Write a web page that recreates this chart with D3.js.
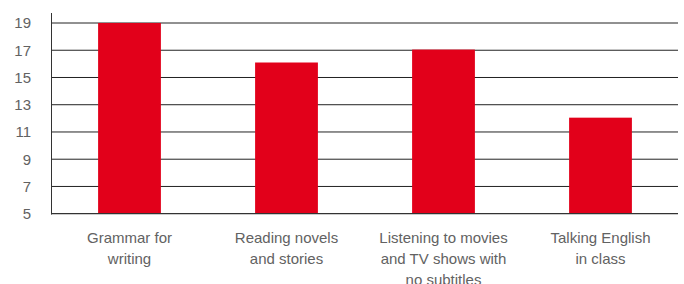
<!DOCTYPE html>
<html><head><meta charset="utf-8">
<script src="https://cdn.jsdelivr.net/npm/d3@7"></script>
<style>body{margin:0;background:#fff}svg{display:block}</style>
</head><body>
<script>
const categories = ["Grammar for writing","Reading novels and stories","Listening to movies and TV shows with no subtitles","Talking English in class"];
const categoryLines = [["Grammar for","writing"],["Reading novels","and stories"],["Listening to movies","and TV shows with","no subtitles"],["Talking English","in class"]];
const values = [19, 16.1, 17.05, 12.05];
const yTicks = [5,7,9,11,13,15,17,19];

const W=684,H=284;
const svg=d3.select("body").append("svg").attr("width",W).attr("height",H);
const x=d3.scaleBand().domain(categories).range([51,679]).paddingInner(0.6).paddingOuter(0.3);
const y=d3.scaleLinear().domain([5,19]).range([213.7,23]);

// gridlines
svg.append("g").selectAll("line").data(yTicks.slice(1)).join("line")
  .attr("x1",51).attr("x2",678).attr("y1",d=>y(d)).attr("y2",d=>y(d))
  .attr("stroke","#222").attr("stroke-width",1);

// bars
svg.append("g").selectAll("rect").data(values).join("rect")
  .attr("x",(d,i)=>x(categories[i])).attr("width",x.bandwidth())
  .attr("y",d=>y(d)).attr("height",d=>y(5)-y(d)).attr("fill","#e2001a");

// y axis
const ya=svg.append("g").attr("transform","translate(51,0)")
  .call(d3.axisLeft(y).tickValues(yTicks).tickSize(0).tickPadding(20));
ya.select(".domain").remove();
ya.selectAll("text").attr("fill","#626262").style("font-family","'Liberation Sans',Arial,sans-serif").style("font-size","15px");
svg.append("line").attr("x1",51.5).attr("x2",51.5).attr("y1",13).attr("y2",214.5).attr("stroke","#333");
svg.append("line").attr("x1",51).attr("x2",678).attr("y1",213.7).attr("y2",213.7).attr("stroke","#333").attr("stroke-width",1.2);

// x axis labels
const xa=svg.append("g").attr("transform","translate(0,214)")
  .call(d3.axisBottom(x).tickSize(0).tickFormat(""));
xa.select(".domain").remove();
xa.selectAll(".tick").each(function(d,i){
  const t=d3.select(this).append("text").attr("fill","#626262").attr("text-anchor","middle")
    .style("font-family","'Liberation Sans',Arial,sans-serif").style("font-size","15px");
  categoryLines[i].forEach((ln,j)=>t.append("tspan").attr("x",0).attr("y",29+j*21).text(ln));
});
</script>
</body></html>
